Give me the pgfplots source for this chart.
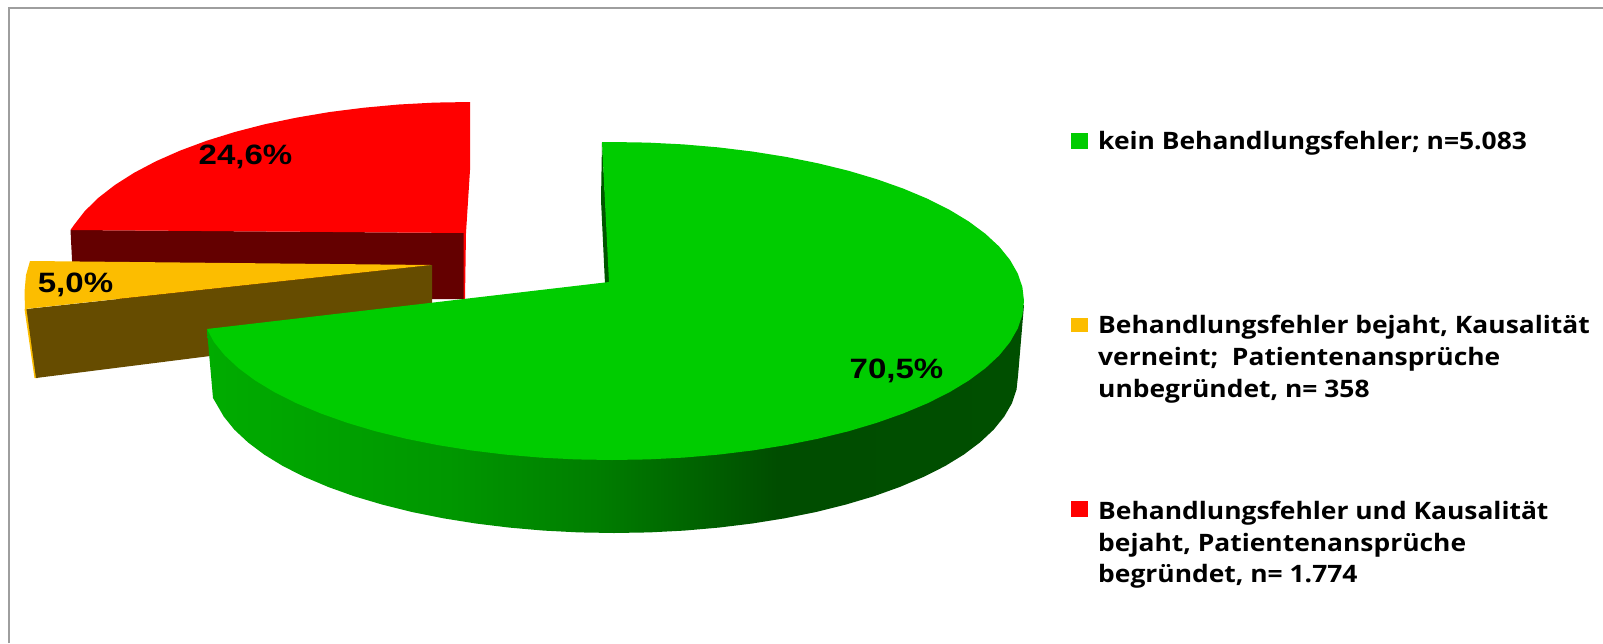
\documentclass[border=0pt]{standalone}
\usepackage{fontspec}
\usepackage{graphicx}
\usepackage{pgfplots}
\pgfplotsset{compat=1.18}
\setmainfont{Open Sans}
\newfontfamily\pctfont{Liberation Sans}
\definecolor{gface}{RGB}{0,204,0}
\definecolor{gsliver}{RGB}{0,85,0}
\definecolor{rface}{RGB}{255,0,0}
\definecolor{rside}{RGB}{100,0,0}
\definecolor{yface}{RGB}{252,189,0}
\definecolor{yside}{RGB}{102,76,0}
\definecolor{frameline}{RGB}{158,158,158}
% wall of the large slice, light on the left and darkest towards the right
\pgfdeclarehorizontalshading{greenwall}{100bp}{
  rgb(0bp)=(0,0.675,0);
  rgb(25bp)=(0,0.675,0);
  rgb(40bp)=(0,0.59,0);
  rgb(49bp)=(0,0.49,0);
  rgb(60bp)=(0,0.30,0);
  rgb(75bp)=(0,0.31,0);
  rgb(100bp)=(0,0.31,0)}
\newcommand{\pct}[1]{\scalebox{1.18}[1]{\pctfont\bfseries\fontsize{28}{32}\selectfont #1}}
\newcommand{\leg}[1]{\scalebox{1.10}[1]{\bfseries\fontsize{24}{28}\selectfont #1}}
\begin{document}
\begin{tikzpicture}
\path[use as bounding box] (0,0) rectangle (1603pt,643pt);
\begin{axis}[
  at={(0,0)}, anchor=south west,
  scale only axis, width=1603pt, height=643pt,
  xmin=0, xmax=1603, ymin=0, ymax=643, y dir=reverse,
  hide axis, clip=false]

% outer frame
\addplot[draw=frameline, line width=2.2pt] coordinates {(9,643) (9,8) (1603,8)};

% red slice: rim, wall, top
\addplot[fill=rface, draw=none] coordinates {(470,102) (470,170) (466,233) (465,299) (460,299) (460,102)} -- cycle;
\addplot[fill=rside, draw=none] coordinates {(70.5,230) (463.5,233) (463.5,299) (74,299)} -- cycle;
\addplot[fill=rface, draw=none] coordinates {
  (470,102) (434.3,102.6) (398.8,104.5) (363.9,107.7) (329.8,112) (296.7,117.6)
  (265,124.2) (234.8,132) (206.5,140.8) (180.1,150.6) (155.9,161.3) (134.1,172.8)
  (114.9,185) (98.4,197.8) (84.7,211.2) (74,225) (70.5,230) (465,233)} -- cycle;

% yellow slice: rim, wall, top
\addplot[fill=yface, draw=none] coordinates {(24.5,309) (34.5,378) (38,378) (30,309)} -- cycle;
\addplot[fill=yside, draw=none] coordinates {(26.5,309) (431,265) (432,265) (432,328) (36,378)} -- cycle;
\addplot[fill=yface, draw=none] coordinates {(30,261) (431,265) (25,309) (24.5,292) (26,275)} -- cycle;

% green slice: wall, inner sliver, top
\addplot[shading=greenwall, draw=none] coordinates {
  (207,330) (1024,305) (1018,376) (1016.5,389.7) (1011.9,403.3) (1004.2,416.6) (993.6,429.7)
  (980.1,442.3) (963.9,454.5) (945,466.1) (923.5,476.9) (899.7,487) (873.7,496.3)
  (845.7,504.6) (816,512) (784.7,518.3) (752.2,523.5) (718.6,527.6) (684.2,530.6)
  (649.2,532.4) (614,533) (578.8,532.4) (543.8,530.6) (509.4,527.6) (475.8,523.5)
  (443.3,518.3) (412,512) (382.3,504.6) (354.3,496.3) (328.3,487) (304.5,476.9)
  (283,466.1) (264.1,454.5) (247.9,442.3) (234.4,429.7) (223.8,416.6) (216.1,403.3)
  (213,398)} -- cycle;
\addplot[fill=gsliver, draw=none] coordinates {(602,142) (601,200) (605,284) (610,283)} -- cycle;
\addplot[fill=gface, draw=none] coordinates {
  (602,142) (612,142) (647.9,142.6) (683.5,144.4) (718.6,147.4) (752.9,151.6) (786.1,156.9)
  (818,163.3) (848.3,170.7) (876.8,179.2) (903.3,188.6) (927.6,198.8) (949.5,209.8)
  (968.8,221.5) (985.4,233.8) (999.2,246.6) (1010,259.9) (1017.7,273.4) (1022.4,287.1)
  (1024,301) (1022.4,314.9) (1017.7,328.6) (1010,342.1) (999.2,355.4) (985.4,368.2)
  (968.8,380.5) (949.5,392.2) (927.6,403.2) (903.3,413.4) (876.8,422.8) (848.3,431.3)
  (818,438.7) (786.1,445.1) (752.9,450.4) (718.6,454.6) (683.5,457.6) (647.9,459.4)
  (612,460) (576.1,459.4) (540.5,457.6) (505.4,454.6) (471.1,450.4) (437.9,445.1)
  (406,438.7) (375.7,431.3) (347.2,422.8) (320.7,413.4) (296.4,403.2) (274.5,392.2)
  (255.2,380.5) (238.6,368.2) (224.8,355.4) (214,342.1) (207,329) (609,282)} -- cycle;

% percentage labels
\node at (axis cs:896.5,371) {\pct{70,5\%}};
\node at (axis cs:245.5,157) {\pct{24,6\%}};
\node at (axis cs:75.5,285) {\pct{5,0\%}};

% legend swatches
\addplot[fill=gface, draw=none] coordinates {(1070.5,133) (1088,133) (1088,149) (1070.5,149)} -- cycle;
\addplot[fill=yface, draw=none] coordinates {(1070.5,318) (1088,318) (1088,332) (1070.5,332)} -- cycle;
\addplot[fill=rface, draw=none] coordinates {(1070.5,501) (1088,501) (1088,517) (1070.5,517)} -- cycle;

% legend texts
\node[anchor=base west, inner sep=0pt] at (axis cs:1098,149) {\leg{kein Behandlungsfehler; n=5.083}};
\node[anchor=base west, inner sep=0pt] at (axis cs:1098,333) {\leg{Behandlungsfehler bejaht, Kausalität}};
\node[anchor=base west, inner sep=0pt] at (axis cs:1098,365) {\leg{verneint;\ \ Patientenansprüche}};
\node[anchor=base west, inner sep=0pt] at (axis cs:1098,397) {\leg{unbegründet, n= 358}};
\node[anchor=base west, inner sep=0pt] at (axis cs:1098,519) {\leg{Behandlungsfehler und Kausalität}};
\node[anchor=base west, inner sep=0pt] at (axis cs:1098,551) {\leg{bejaht, Patientenansprüche}};
\node[anchor=base west, inner sep=0pt] at (axis cs:1098,582) {\leg{begründet, n= 1.774}};
\end{axis}
\end{tikzpicture}
\end{document}
